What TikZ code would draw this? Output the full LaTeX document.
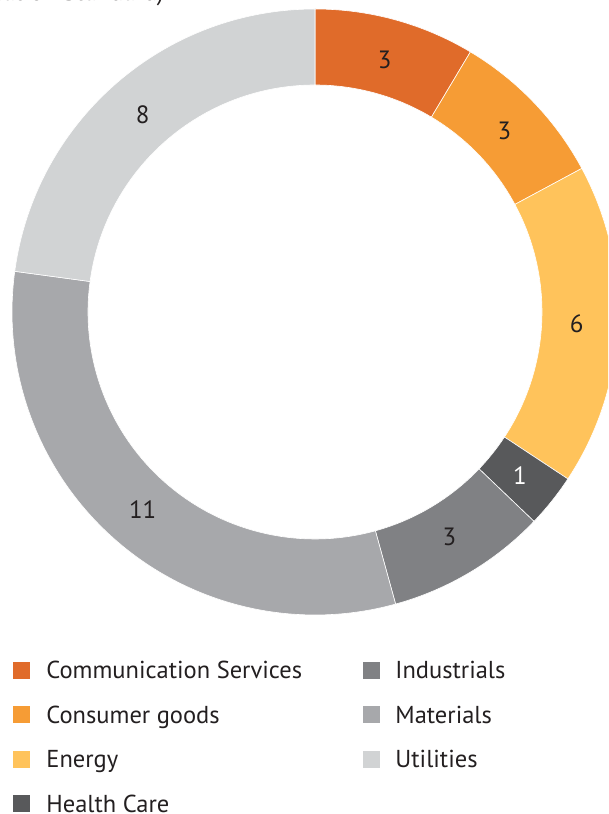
\documentclass[tikz,border=0pt]{standalone}
\usepackage{fontspec}
\setmainfont{PT Sans}
\usetikzlibrary{positioning}

\definecolor{commcol}{HTML}{E06B2A}
\definecolor{conscol}{HTML}{F69C35}
\definecolor{enercol}{HTML}{FFC35B}
\definecolor{healcol}{HTML}{58595B}
\definecolor{induscol}{HTML}{808184}
\definecolor{matcol}{HTML}{A7A8AB}
\definecolor{utilcol}{HTML}{D1D3D4}
\definecolor{inkcol}{HTML}{231F20}

\begin{document}
\begin{tikzpicture}[x=1pt, y=1pt,
  slice/.style = {draw=white, line width=0.6pt},
  value/.style = {font=\fontsize{25}{29}\selectfont, inner sep=0pt},
  legbox/.style = {minimum size=17pt, inner sep=0pt},
  legtext/.style = {font=\fontsize{24.5}{28}\selectfont, text=inkcol,
    inner sep=0pt, text height=17pt, text depth=0pt}]
  \useasboundingbox (0,0) rectangle (608,814);
  \clip (0,0) rectangle (608,814);

  % title, cut off by the page edge
  \node[font=\fontsize{24.5}{28}\selectfont, text=inkcol, anchor=base east,
    inner sep=0pt] (title) at (164,813) {(Global Industry Classification Standard)};

  % ring
  \begin{scope}[shift={(315,502)}]
    \foreach \from/\to/\col/\num/\ink [count=\i] in
      {0/3/commcol/3/inkcol, 3/6/conscol/3/inkcol, 6/12/enercol/6/inkcol,
       12/13/healcol/1/white, 13/16/induscol/3/inkcol,
       16/27/matcol/11/inkcol, 27/35/utilcol/8/inkcol} {
      \pgfmathsetmacro\a{90-\from*360/35}
      \pgfmathsetmacro\b{90-\to*360/35}
      \pgfmathsetmacro\m{(\a+\b)/2}
      \fill[\col, slice] (\a:303) arc[start angle=\a, end angle=\b, radius=303]
        -- (\b:227) arc[start angle=\b, end angle=\a, radius=227] -- cycle;
      \node[value, text=\ink] (val\i) at (\m:262) {\num};
    }
  \end{scope}

  % legend
  \node[legbox, fill=commcol] (comm) at (21.5,143.5) {};
  \node[legbox, fill=conscol, below=27pt of comm] (cons) {};
  \node[legbox, fill=enercol, below=27pt of cons] (ener) {};
  \node[legbox, fill=healcol, below=27pt of ener] (heal) {};
  \node[legbox, fill=induscol] (indus) at (371.5,143.5) {};
  \node[legbox, fill=matcol, below=27pt of indus] (mat) {};
  \node[legbox, fill=utilcol, below=27pt of mat] (util) {};

  \node[legtext, right=16pt of comm] (commtxt) {Communication Services};
  \node[legtext, right=16pt of cons] (constxt) {Consumer goods};
  \node[legtext, right=16pt of ener] (enertxt) {Energy};
  \node[legtext, right=16pt of heal] (healtxt) {Health Care};
  \node[legtext, right=15pt of indus] (industxt) {Industrials};
  \node[legtext, right=15pt of mat] (mattxt) {Materials};
  \node[legtext, right=15pt of util] (utiltxt) {Utilities};
\end{tikzpicture}
\end{document}
